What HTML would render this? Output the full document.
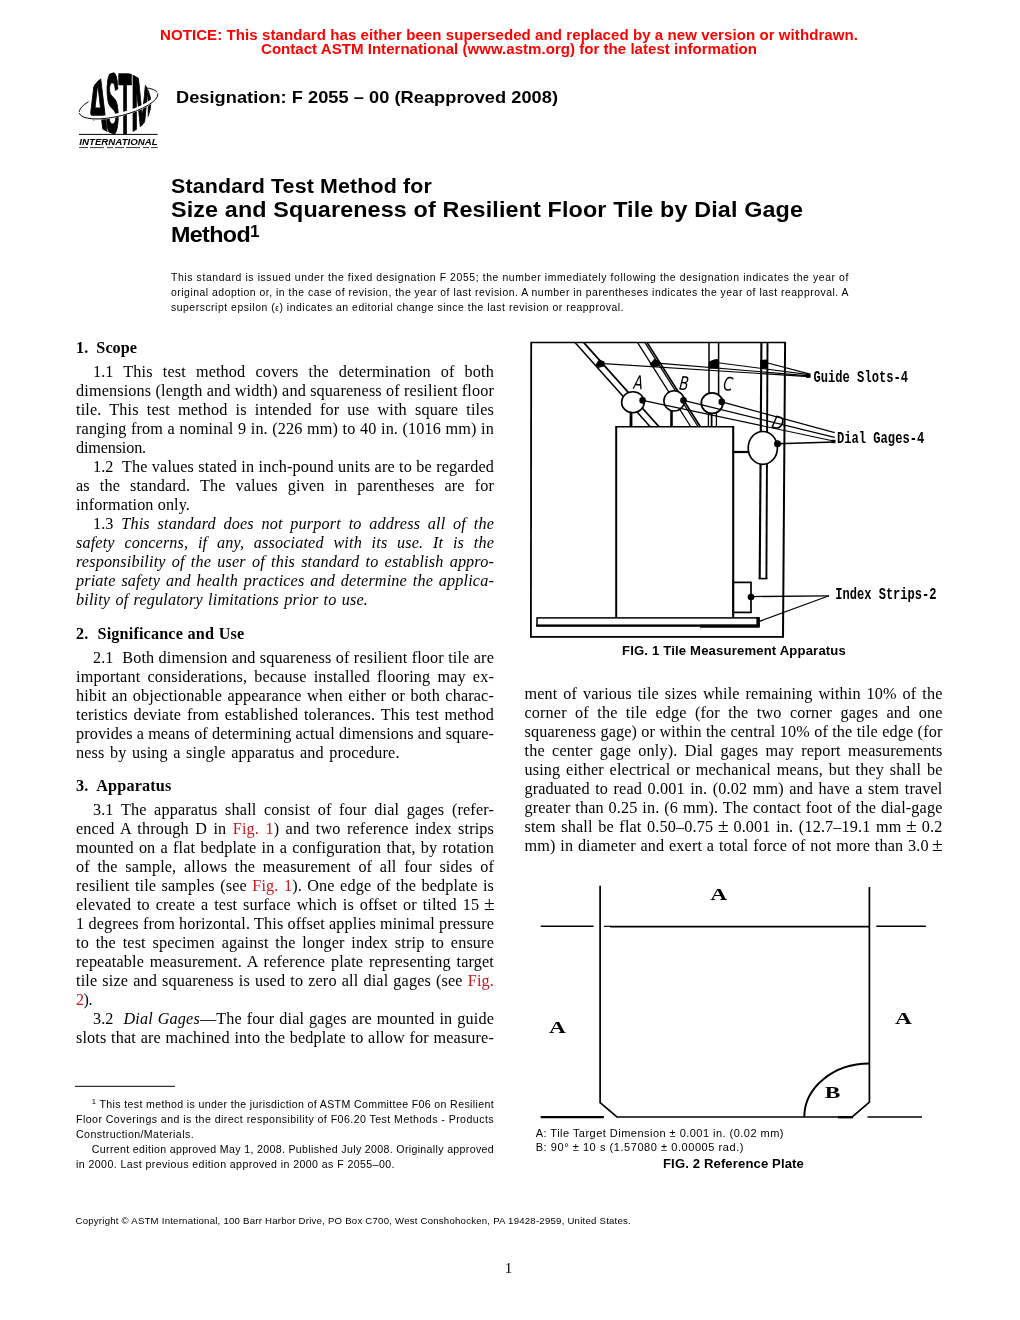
<!DOCTYPE html>
<html lang="en"><head><meta charset="utf-8"><title>ASTM F 2055</title>
<style>
html,body{margin:0;padding:0;background:#fff}
body{will-change:transform;width:1020px;height:1320px;position:relative;overflow:hidden;color:#111}
.l{transform-origin:0 0;position:absolute;white-space:nowrap;line-height:0;height:0;text-align:justify;text-align-last:justify;}
.l.nj{text-align:left;text-align-last:left}
sup{font-size:62%;vertical-align:baseline;position:relative;top:-0.52em;line-height:0}
.r{color:#c4161c}
.t2 sup{font-size:74%;top:-0.34em}
.fn sup{font-size:72%;top:-0.5em}
.pm{display:inline-block;transform:translateY(-1px) scale(1.2)}
.n{font-style:normal}
.eps{font-size:80%}
svg{position:absolute;left:0;top:0}
svg text{font-family:"Liberation Mono",monospace}
.notice{font-family:"Liberation Sans", sans-serif;font-size:14.6px;font-weight:bold;font-style:normal;color:#f00}
.desig{font-family:"Liberation Sans", sans-serif;font-size:17.0px;font-weight:bold;font-style:normal;color:#000}
.t1{font-family:"Liberation Sans", sans-serif;font-size:20px;font-weight:bold;font-style:normal;color:#000}
.t2{font-family:"Liberation Sans", sans-serif;font-size:21.8px;font-weight:bold;font-style:normal;color:#000}
.note{font-family:"Liberation Sans", sans-serif;font-size:10.4px;font-weight:normal;font-style:normal;color:#000}
.body{font-family:"Liberation Serif", serif;font-size:16.2px;font-weight:normal;font-style:normal;color:#000}
.body.it{font-family:"Liberation Serif", serif;font-size:16.2px;font-weight:normal;font-style:italic;color:#000}
.head{font-family:"Liberation Serif", serif;font-size:16.2px;font-weight:bold;font-style:normal;color:#000}
.fn{font-family:"Liberation Sans", sans-serif;font-size:10.6px;font-weight:normal;font-style:normal;color:#000}
.copy{font-family:"Liberation Sans", sans-serif;font-size:9.6px;font-weight:normal;font-style:normal;color:#000}
.pn{font-family:"Liberation Serif", serif;font-size:15px;font-weight:normal;font-style:normal;color:#000}
.cap{font-family:"Liberation Sans", sans-serif;font-size:12.6px;font-weight:bold;font-style:normal;color:#000}
.leg{font-family:"Liberation Sans", sans-serif;font-size:11px;font-weight:normal;font-style:normal;color:#000}
</style></head><body>
<svg width="1020" height="1320" viewBox="0 0 1020 1320">
<g stroke="#000" fill="none" stroke-linecap="butt">
<line x1="530.6" y1="342.6" x2="785.9" y2="342.6" stroke-width="1.5"/>
<line x1="531.2" y1="342.6" x2="530.9" y2="637.5999999999999" stroke-width="1.8"/>
<line x1="785.1" y1="342.6" x2="783" y2="637.5999999999999" stroke-width="2.0"/>
<line x1="530.3" y1="636.8" x2="783.9" y2="636.8" stroke-width="1.7"/>
<line x1="575.0" y1="342.6" x2="650.0" y2="426.5" stroke-width="1.5"/>
<line x1="583.8" y1="342.6" x2="658.8" y2="426.5" stroke-width="1.8"/>
<line x1="637.6" y1="342.6" x2="690.6" y2="426.5" stroke-width="1.3"/>
<line x1="645.0" y1="342.6" x2="698.0" y2="426.5" stroke-width="1.3"/>
<line x1="647.2" y1="342.6" x2="700.2" y2="426.5" stroke-width="1.7"/>
<line x1="709" y1="342.6" x2="709" y2="395" stroke-width="1.5"/>
<line x1="718.6" y1="342.6" x2="718.6" y2="395" stroke-width="1.5"/>
<line x1="761.4" y1="342.6" x2="759.7" y2="578.8" stroke-width="2.1"/>
<line x1="767.5" y1="342.6" x2="766.4" y2="578.8" stroke-width="1.9"/>
<line x1="758.7" y1="578.6" x2="767.4" y2="578.6" stroke-width="1.6"/>
<rect x="616.2" y="426.6" width="117.0" height="191.19999999999993" stroke-width="0" fill="#fff"/>
<line x1="615.3" y1="426.7" x2="734.2" y2="426.7" stroke-width="1.5"/>
<line x1="616.2" y1="426.7" x2="616.2" y2="618" stroke-width="2.0"/>
<line x1="733.2" y1="426.7" x2="733.2" y2="619.5" stroke-width="2.1"/>
<line x1="631" y1="412" x2="631" y2="426.6" stroke-width="2.8"/>
<line x1="671.5" y1="410" x2="671.5" y2="426.6" stroke-width="2.6"/>
<line x1="708.4" y1="412" x2="708.4" y2="426.6" stroke-width="1.3"/>
<line x1="711.6" y1="412" x2="711.6" y2="426.6" stroke-width="1.8"/>
<line x1="716.4" y1="412" x2="716.4" y2="426.6" stroke-width="1.3"/>
<line x1="732.8" y1="452" x2="748" y2="452" stroke-width="2.2"/>
<ellipse cx="632.9" cy="402.2" rx="11.3" ry="10.5" stroke-width="1.6" fill="#fff"/>
<ellipse cx="674.1" cy="400.9" rx="10.2" ry="10.1" stroke-width="1.6" fill="#fff"/>
<ellipse cx="712.1" cy="403.1" rx="10.8" ry="10.3" stroke-width="1.8" fill="#fff"/>
<ellipse cx="762.8" cy="447.9" rx="14.6" ry="16.4" stroke-width="1.7" fill="#fff"/>
<line x1="599.7" y1="363.4" x2="809" y2="376.6" stroke-width="1.2"/>
<line x1="654.7" y1="362.8" x2="809" y2="375.8" stroke-width="1.2"/>
<line x1="716" y1="362.5" x2="809" y2="374.6" stroke-width="1.2"/>
<line x1="766" y1="362.5" x2="809" y2="373.8" stroke-width="1.2"/>
<line x1="642.6" y1="400.4" x2="834.7" y2="441.2" stroke-width="1.15"/>
<line x1="683.5" y1="400.4" x2="834.7" y2="437.4" stroke-width="1.15"/>
<line x1="721.8" y1="401.9" x2="834.7" y2="432.6" stroke-width="1.15"/>
<line x1="777.5" y1="443.7" x2="834.7" y2="442" stroke-width="1.5"/>
<rect x="733.2" y="582.4" width="17.799999999999955" height="30.0" stroke-width="1.7" fill="none"/>
<rect x="537" y="617.9" width="222" height="7.7000000000000455" stroke-width="1.5" fill="#fff"/>
<line x1="536.2" y1="625.7" x2="759.6" y2="625.7" stroke-width="2.2"/>
<line x1="700" y1="626.2" x2="759.6" y2="626.2" stroke-width="3.0"/>
<line x1="758" y1="617.2" x2="758" y2="627" stroke-width="3.2"/>
<line x1="751" y1="596.6" x2="829" y2="595.8" stroke-width="1.3"/>
<line x1="759.5" y1="621.4" x2="829" y2="595.8" stroke-width="1.2"/>
</g>
<g fill="#000">
<path d="M595 365.5 L599 359.5 L604.5 361.5 L604 366.5 L598 368Z"/>
<path d="M649.5 364.5 L654 359 L660 361 L659.5 366 L653 367.5Z"/>
<path d="M708.6 368.8 L708.6 363 Q710 359.3 719 359 L719 368.8Z"/>
<path d="M760.2 368.8 L760.2 360 L768 359.4 L768 368.8Z"/>
<rect x="806" y="373.4" width="4.6" height="4.4" stroke-width="0" fill="#000"/>
<rect x="831.5" y="439.8" width="4" height="3.4" stroke-width="0" fill="#000"/>
<circle cx="642.6" cy="400.4" r="3.3" fill="#000" stroke="none"/>
<circle cx="683.5" cy="400.4" r="3.3" fill="#000" stroke="none"/>
<circle cx="721.8" cy="401.9" r="3.3" fill="#000" stroke="none"/>
<circle cx="777.5" cy="443.7" r="3.5" fill="#000" stroke="none"/>
<circle cx="751" cy="597" r="3.3" fill="#000" stroke="none"/>
</g>
<text x="813.5" y="382" font-size="16.6" font-weight="bold" textLength="94.5" lengthAdjust="spacingAndGlyphs" fill="#000">Guide Slots-4</text>
<text x="837" y="442.8" font-size="16.6" font-weight="bold" textLength="87.2" lengthAdjust="spacingAndGlyphs" fill="#000">Dial Gages-4</text>
<text x="835.3" y="598.8" font-size="16.6" font-weight="bold" textLength="101.2" lengthAdjust="spacingAndGlyphs" fill="#000">Index Strips-2</text>
<text x="0" y="0" font-size="19" text-anchor="middle" style="font-family:'DejaVu Sans',sans-serif;font-style:italic" transform="translate(638 389) rotate(4) scale(0.72 1)" fill="#000">A</text>
<text x="0" y="0" font-size="19" text-anchor="middle" style="font-family:'DejaVu Sans',sans-serif;font-style:italic" transform="translate(683.5 390) rotate(6) scale(0.72 1)" fill="#000">B</text>
<text x="0" y="0" font-size="19" text-anchor="middle" style="font-family:'DejaVu Sans',sans-serif;font-style:italic" transform="translate(727.5 390.5) rotate(6) scale(0.72 1)" fill="#000">C</text>
<text x="0" y="0" font-size="18" text-anchor="middle" style="font-family:'DejaVu Sans',sans-serif;font-style:italic" transform="translate(776.5 429) rotate(14) scale(0.85 1)" fill="#000">D</text>
<g stroke="#000" fill="none" stroke-width="1.7">
<path d="M600.1 885.7 L600.1 1102.7 L616.9 1117 L852.2 1117 L869.4 1102.2 L869.4 887"/>
<line x1="604" y1="926.3" x2="611" y2="926.3" stroke-width="1.2"/>
<line x1="610" y1="926.6" x2="869.4" y2="926.6" stroke-width="1.9"/>
<line x1="540.7" y1="926.2" x2="593.5" y2="926.2" stroke-width="1.6"/>
<line x1="876.3" y1="926.3" x2="925.9" y2="926.3" stroke-width="1.5"/>
<line x1="540.7" y1="1117.2" x2="603.8" y2="1117.2" stroke-width="2.2"/>
<line x1="838" y1="1117.2" x2="853" y2="1117.2" stroke-width="2.4"/>
<line x1="867.5" y1="1117" x2="922" y2="1117" stroke-width="1.6"/>
<path d="M804.3 1117 A65.1 53.4 0 0 1 869.4 1063.6" stroke-width="2"/>
</g>
<text x="0" y="0" font-size="16.5" font-weight="bold" text-anchor="middle" style="font-family:'Liberation Serif',serif" fill="#000" transform="translate(718.8 900.3) scale(1.42 1)">A</text>
<text x="0" y="0" font-size="16.5" font-weight="bold" text-anchor="middle" style="font-family:'Liberation Serif',serif" fill="#000" transform="translate(557.4 1032.8) scale(1.42 1)">A</text>
<text x="0" y="0" font-size="16.5" font-weight="bold" text-anchor="middle" style="font-family:'Liberation Serif',serif" fill="#000" transform="translate(903.5 1023.8) scale(1.42 1)">A</text>
<text x="0" y="0" font-size="16.5" font-weight="bold" text-anchor="middle" style="font-family:'Liberation Serif',serif" fill="#000" transform="translate(832.6 1098) scale(1.42 1)">B</text>
<defs><clipPath id="lc"><circle cx="119.9" cy="103.2" r="31.4"/></clipPath></defs>
<ellipse cx="118.5" cy="103.3" rx="40.4" ry="12.6" stroke="#000" stroke-width="0.9" fill="none" transform="rotate(-14 118.5 103.3)"/>
<circle cx="119.9" cy="103.2" r="31.4" fill="#fff"/>
<g clip-path="url(#lc)" font-size="40" font-weight="bold" fill="#000" stroke="#000" stroke-width="1.1"><text x="0" y="0" style="font-family:'Liberation Sans',sans-serif" transform="translate(87.4 132.8) scale(0.71 2.14)">A</text><text x="0" y="0" style="font-family:'Liberation Sans',sans-serif" transform="translate(105.8 132.8) scale(0.5 2.14)">S</text><text x="0" y="0" style="font-family:'Liberation Sans',sans-serif" transform="translate(118.4 132.8) scale(0.54 2.14)">T</text><text x="0" y="0" style="font-family:'Liberation Sans',sans-serif" transform="translate(131.2 132.8) scale(0.66 2.14)">M</text></g>
<g transform="rotate(-14 118.5 103.3)" fill="none">
<path d="M78.1 103.3 A40.4 12.6 0 0 0 158.9 103.3" stroke="#fff" stroke-width="4" transform="translate(0 -1.2)"/>
<path d="M78.1 103.3 A40.4 12.6 0 0 0 158.9 103.3" stroke="#000" stroke-width="0.9"/>
</g>
<line x1="79" y1="134.4" x2="157.7" y2="134.4" stroke="#000" stroke-width="1"/>
<text x="79.3" y="144.6" font-size="8.9" font-weight="bold" font-style="italic" textLength="78.4" lengthAdjust="spacingAndGlyphs" fill="#000" style="font-family:'Liberation Sans',sans-serif">INTERNATIONAL</text>
<line x1="79" y1="147.6" x2="157.7" y2="147.6" stroke="#000" stroke-width="0.8" stroke-dasharray="9 2 14 3 6 2"/>
<line x1="75" y1="1086.3" x2="175" y2="1086.3" stroke="#000" stroke-width="1"/>
</svg>
<div class="l notice" style="left:160px;top:34.84px;width:677.7px;transform:scaleX(1.03);letter-spacing:0.067px;">NOTICE: This standard has either been superseded and replaced by a new version or withdrawn.</div>
<div class="l notice" style="left:261px;top:49.24px;width:481.6px;transform:scaleX(1.03);letter-spacing:0.027px;">Contact ASTM International (www.astm.org) for the latest information</div>
<div class="l desig" style="left:176px;top:98.21px;width:357.0px;transform:scaleX(1.07);letter-spacing:0.042px;">Designation: F 2055 – 00 (Reapproved 2008)</div>
<div class="l t1" style="left:171px;top:186.07px;width:243.9px;transform:scaleX(1.07);letter-spacing:0.132px;">Standard Test Method for</div>
<div class="l t2" style="left:171px;top:210.45px;width:590.7px;transform:scaleX(1.07);letter-spacing:0.129px;">Size and Squareness of Resilient Floor Tile by Dial Gage</div>
<div class="l t2" style="left:171px;top:235.45px;width:82.2px;transform:scaleX(1.07);letter-spacing:-0.601px;">Method<sup>1</sup></div>
<div class="l note" style="left:171px;top:277.60px;width:678.0px;letter-spacing:0.612px;">This standard is issued under the fixed designation F 2055; the number immediately following the designation indicates the year of</div>
<div class="l note" style="left:171px;top:292.60px;width:678.0px;letter-spacing:0.518px;">original adoption or, in the case of revision, the year of last revision. A number in parentheses indicates the year of last reapproval. A</div>
<div class="l note" style="left:171px;top:307.60px;width:453.0px;letter-spacing:0.533px;">superscript epsilon (<span class="eps">ε</span>) indicates an editorial change since the last revision or reapproval.</div>
<div class="l head" style="left:76px;top:347.73px;width:61.0px;letter-spacing:0.033px;">1.&nbsp; Scope</div>
<div class="l body" style="left:92.9px;top:371.93px;width:401.1px;letter-spacing:0.150px;">1.1 This test method covers the determination of both</div>
<div class="l body" style="left:76px;top:390.93px;width:418.0px;letter-spacing:0.150px;">dimensions (length and width) and squareness of resilient floor</div>
<div class="l body" style="left:76px;top:409.93px;width:418.0px;letter-spacing:0.150px;">tile. This test method is intended for use with square tiles</div>
<div class="l body" style="left:76px;top:428.93px;width:418.0px;letter-spacing:0.150px;">ranging from a nominal 9 in. (226 mm) to 40 in. (1016 mm) in</div>
<div class="l body" style="left:76px;top:447.93px;width:70.0px;letter-spacing:-0.150px;">dimension.</div>
<div class="l body" style="left:92.9px;top:466.93px;width:401.1px;letter-spacing:0.150px;">1.2&nbsp; The values stated in inch-pound units are to be regarded</div>
<div class="l body" style="left:76px;top:485.93px;width:418.0px;letter-spacing:0.150px;">as the standard. The values given in parentheses are for</div>
<div class="l body" style="left:76px;top:504.93px;width:114.0px;letter-spacing:0.103px;">information only.</div>
<div class="l body it" style="left:92.9px;top:523.93px;width:401.1px;letter-spacing:0.150px;"><span class="n">1.3</span> This standard does not purport to address all of the</div>
<div class="l body it" style="left:76px;top:542.93px;width:418.0px;letter-spacing:0.150px;">safety concerns, if any, associated with its use. It is the</div>
<div class="l body it" style="left:76px;top:561.93px;width:418.0px;letter-spacing:0.150px;">responsibility of the user of this standard to establish appro-</div>
<div class="l body it" style="left:76px;top:580.93px;width:418.0px;letter-spacing:0.150px;">priate safety and health practices and determine the applica-</div>
<div class="l body it" style="left:76px;top:599.93px;width:292.0px;letter-spacing:0.150px;">bility of regulatory limitations prior to use.</div>
<div class="l head" style="left:76px;top:633.73px;width:168.3px;letter-spacing:0.150px;">2.&nbsp; Significance and Use</div>
<div class="l body" style="left:92.9px;top:657.73px;width:401.1px;letter-spacing:0.150px;">2.1&nbsp; Both dimension and squareness of resilient floor tile are</div>
<div class="l body" style="left:76px;top:676.73px;width:418.0px;letter-spacing:0.150px;">important considerations, because installed flooring may ex-</div>
<div class="l body" style="left:76px;top:695.73px;width:418.0px;letter-spacing:0.150px;">hibit an objectionable appearance when either or both charac-</div>
<div class="l body" style="left:76px;top:714.73px;width:418.0px;letter-spacing:0.150px;">teristics deviate from established tolerances. This test method</div>
<div class="l body" style="left:76px;top:733.73px;width:418.0px;letter-spacing:0.102px;">provides a means of determining actual dimensions and square-</div>
<div class="l body" style="left:76px;top:752.73px;width:323.6px;letter-spacing:0.150px;">ness by using a single apparatus and procedure.</div>
<div class="l head" style="left:76px;top:785.93px;width:95.4px;letter-spacing:0.150px;">3.&nbsp; Apparatus</div>
<div class="l body" style="left:92.9px;top:810.03px;width:401.1px;letter-spacing:0.150px;">3.1 The apparatus shall consist of four dial gages (refer-</div>
<div class="l body" style="left:76px;top:829.03px;width:418.0px;letter-spacing:0.150px;">enced A through D in <span class="r">Fig. 1</span>) and two reference index strips</div>
<div class="l body" style="left:76px;top:848.03px;width:418.0px;letter-spacing:0.150px;">mounted on a flat bedplate in a configuration that, by rotation</div>
<div class="l body" style="left:76px;top:867.03px;width:418.0px;letter-spacing:0.150px;">of the sample, allows the measurement of all four sides of</div>
<div class="l body" style="left:76px;top:886.03px;width:418.0px;letter-spacing:0.150px;">resilient tile samples (see <span class="r">Fig. 1</span>). One edge of the bedplate is</div>
<div class="l body" style="left:76px;top:905.03px;width:418.0px;letter-spacing:0.150px;">elevated to create a test surface which is offset or tilted 15 <span class="pm">±</span></div>
<div class="l body" style="left:76px;top:924.03px;width:418.0px;letter-spacing:0.129px;">1 degrees from horizontal. This offset applies minimal pressure</div>
<div class="l body" style="left:76px;top:943.03px;width:418.0px;letter-spacing:0.150px;">to the test specimen against the longer index strip to ensure</div>
<div class="l body" style="left:76px;top:962.03px;width:418.0px;letter-spacing:0.150px;">repeatable measurement. A reference plate representing target</div>
<div class="l body" style="left:76px;top:981.03px;width:418.0px;letter-spacing:0.150px;">tile size and squareness is used to zero all dial gages (see <span class="r">Fig.</span></div>
<div class="l body" style="left:76px;top:1000.03px;width:16.0px;letter-spacing:-0.510px;"><span class="r">2</span>).</div>
<div class="l body" style="left:92.9px;top:1019.03px;width:401.1px;letter-spacing:0.150px;">3.2&nbsp; <i>Dial Gages</i>—The four dial gages are mounted in guide</div>
<div class="l body" style="left:76px;top:1038.03px;width:418.0px;letter-spacing:0.150px;">slots that are machined into the bedplate to allow for measure-</div>
<div class="l body" style="left:524.5px;top:693.83px;width:418.0px;letter-spacing:0.150px;">ment of various tile sizes while remaining within 10% of the</div>
<div class="l body" style="left:524.5px;top:712.83px;width:418.0px;letter-spacing:0.150px;">corner of the tile edge (for the two corner gages and one</div>
<div class="l body" style="left:524.5px;top:731.83px;width:418.0px;letter-spacing:0.150px;">squareness gage) or within the central 10% of the tile edge (for</div>
<div class="l body" style="left:524.5px;top:750.83px;width:418.0px;letter-spacing:0.150px;">the center gage only). Dial gages may report measurements</div>
<div class="l body" style="left:524.5px;top:769.83px;width:418.0px;letter-spacing:0.150px;">using either electrical or mechanical means, but they shall be</div>
<div class="l body" style="left:524.5px;top:788.83px;width:418.0px;letter-spacing:0.150px;">graduated to read 0.001 in. (0.02 mm) and have a stem travel</div>
<div class="l body" style="left:524.5px;top:807.83px;width:418.0px;letter-spacing:0.150px;">greater than 0.25 in. (6 mm). The contact foot of the dial-gage</div>
<div class="l body" style="left:524.5px;top:826.83px;width:418.0px;letter-spacing:0.150px;">stem shall be flat 0.50–0.75 <span class="pm">±</span> 0.001 in. (12.7–19.1 mm <span class="pm">±</span> 0.2</div>
<div class="l body" style="left:524.5px;top:845.83px;width:418.0px;letter-spacing:0.150px;">mm) in diameter and exert a total force of not more than 3.0 <span class="pm">±</span></div>
<div class="l fn" style="left:91.8px;top:1103.93px;width:402.2px;letter-spacing:0.359px;"><sup>1</sup> This test method is under the jurisdiction of ASTM Committee F06 on Resilient</div>
<div class="l fn" style="left:76px;top:1119.03px;width:418.0px;letter-spacing:0.447px;">Floor Coverings and is the direct responsibility of F06.20 Test Methods - Products</div>
<div class="l fn" style="left:76px;top:1134.03px;width:118.0px;letter-spacing:0.420px;">Construction/Materials.</div>
<div class="l fn" style="left:91.8px;top:1149.03px;width:402.2px;letter-spacing:0.340px;">Current edition approved May 1, 2008. Published July 2008. Originally approved</div>
<div class="l fn" style="left:76px;top:1163.93px;width:319.0px;letter-spacing:0.421px;">in 2000. Last previous edition approved in 2000 as F 2055–00.</div>
<div class="l copy" style="left:75.5px;top:1220.77px;width:555.5px;letter-spacing:0.235px;">Copyright © ASTM International, 100 Barr Harbor Drive, PO Box C700, West Conshohocken, PA 19428-2959, United States.</div>
<div class="l pn nj" style="left:504.8px;top:1268.14px;width:6.2px;">1</div>
<div class="l cap" style="left:622px;top:651.03px;width:215.4px;transform:scaleX(1.04);letter-spacing:0.164px;">FIG. 1 Tile Measurement Apparatus</div>
<div class="l leg" style="left:535.7px;top:1133.09px;width:248.3px;letter-spacing:0.473px;">A: Tile Target Dimension ± 0.001 in. (0.02 mm)</div>
<div class="l leg" style="left:535.7px;top:1147.09px;width:208.3px;letter-spacing:0.558px;">B: 90° ± 10 s (1.57080 ± 0.00005 rad.)</div>
<div class="l cap" style="left:663px;top:1163.63px;width:135.6px;transform:scaleX(1.04);letter-spacing:0.117px;">FIG. 2 Reference Plate</div>
</body></html>
